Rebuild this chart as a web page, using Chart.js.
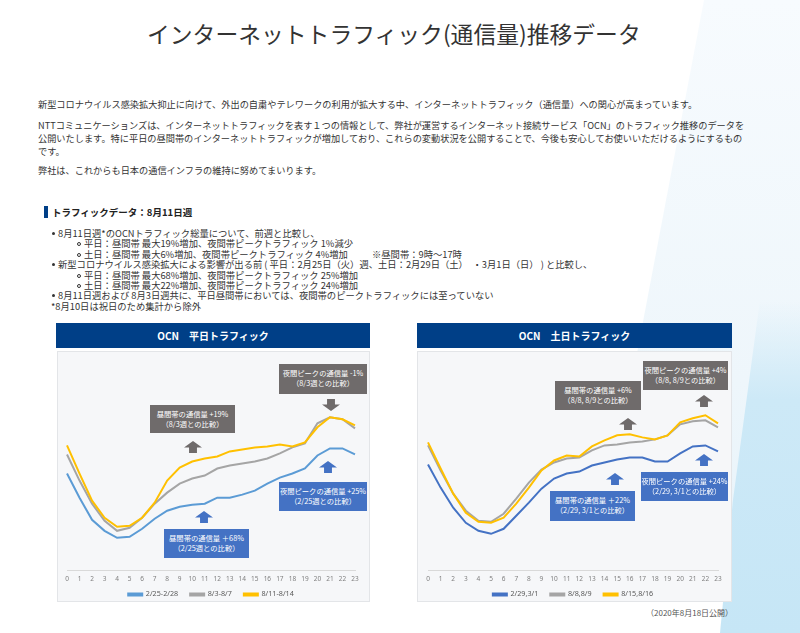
<!DOCTYPE html>
<html lang="ja">
<head>
<meta charset="utf-8">
<title>インターネットトラフィック(通信量)推移データ</title>
<script src="https://cdn.jsdelivr.net/npm/chart.js@4.4.0/dist/chart.umd.min.js"></script>
<style>
  html, body { margin: 0; padding: 0; }
  body {
    width: 800px; height: 633px; position: relative; overflow: hidden;
    background: #ffffff;
    font-family: "Noto Sans CJK JP", "Noto Sans", sans-serif;
    color: #333;
  }
  .bg1 {
    position: absolute; left: 560px; top: 0; width: 240px; height: 633px;
    background: linear-gradient(180deg, #f7fbfe 0%, #eef6fb 60%, #e6f3fa 100%);
    clip-path: polygon(60% 0, 100% 0, 100% 100%, 80% 100%, 30% 60%);
  }
  .bg2 {
    position: absolute; left: 700px; top: 300px; width: 100px; height: 333px;
    background: linear-gradient(180deg, rgba(200,233,248,0) 0%, #cde9f7 30%, #c6e6f6 100%);
    clip-path: polygon(60% 0, 100% 0, 100% 100%, 20% 100%, 33% 60%);
  }
  .abs { position: absolute; white-space: nowrap; }
  .title { left: 147px; top: 18px; font-size: 22.8px; line-height: 32px; color: #333; }
  .p { left: 38px; font-size: 9.2px; line-height: 12px; color: #333; }
  .h2 { left: 52px; top: 206px; font-size: 9.5px; font-weight: bold; line-height: 13px; color: #222; }
  .h2bar { position: absolute; left: 44px; top: 206px; width: 4px; height: 12px; background: #003f87; }
  .li { font-size: 9.3px; line-height: 11px; color: #333; }
  .dot { position: absolute; width: 3px; height: 3px; border-radius: 50%; background: #333; }
  .circ { position: absolute; width: 4px; height: 4px; border-radius: 50%; border: 1px solid #333; box-sizing: border-box; }
  .panelHead {
    position: absolute; top: 323px; height: 25px; background: #003f87; color: #fff;
    font-size: 10px; font-weight: bold; line-height: 25px; text-align: center;
  }
  .panel {
    position: absolute; top: 351px; height: 251px; background: #f6f7f9;
    border: 1px solid #e3e5e8; box-sizing: border-box; overflow: hidden;
  }
  .cwrap { position: absolute; left: 0; top: 0; width: 100%; height: 265px; }
  .note {
    position: absolute; color: #fff; font-size: 7.3px; line-height: 10px; text-align: center;
    box-sizing: border-box; padding-top: 4px; white-space: nowrap;
  }
  .gray { background: #6f6b6b; }
  .blue { background: #4472c4; }
  .arrow { position: absolute; width: 18px; height: 12px; }
  .up { clip-path: polygon(50% 0, 100% 55%, 72% 55%, 72% 100%, 28% 100%, 28% 55%, 0 55%); }
  .down { clip-path: polygon(28% 0, 72% 0, 72% 45%, 100% 45%, 50% 100%, 0 45%, 28% 45%); }
  .foot { left: 646px; top: 607px; font-size: 8px; line-height: 12px; color: #555; }
</style>
</head>
<body>
<div class="bg1"></div>
<div class="bg2"></div>

<div class="abs title">インターネットトラフィック(通信量)推移データ</div>

<div class="abs p" style="top:98px">新型コロナウイルス感染拡大抑止に向けて、外出の自粛やテレワークの利用が拡大する中、インターネットトラフィック（通信量）への関心が高まっています。</div>
<div class="abs p" style="top:119px">NTTコミュニケーションズは、インターネットトラフィックを表す１つの情報として、弊社が運営するインターネット接続サービス「OCN」のトラフィック推移のデータを</div>
<div class="abs p" style="top:132px">公開いたします。特に平日の昼間帯のインターネットトラフィックが増加しており、これらの変動状況を公開することで、今後も安心してお使いいただけるようにするもの</div>
<div class="abs p" style="top:145px">です。</div>
<div class="abs p" style="top:164px">弊社は、これからも日本の通信インフラの維持に努めてまいります。</div>

<div class="h2bar"></div>
<div class="abs h2">トラフィックデータ：8月11日週</div>

<div class="dot" style="left:52px;top:232px"></div>
<div class="abs li" style="left:58px;top:228px">8月11日週*のOCNトラフィック総量について、前週と比較し、</div>
<div class="circ" style="left:77px;top:242px"></div>
<div class="abs li" style="left:84px;top:238px">平日：昼間帯 最大19%増加、夜間帯ピークトラフィック 1%減少</div>
<div class="circ" style="left:77px;top:253px"></div>
<div class="abs li" style="left:84px;top:249px">土日：昼間帯 最大6%増加、夜間帯ピークトラフィック 4%増加</div>
<div class="abs li" style="left:372px;top:249px">※昼間帯：9時〜17時</div>
<div class="dot" style="left:52px;top:263px"></div>
<div class="abs li" style="left:58px;top:259px">新型コロナウイルス感染拡大による影響が出る前 ( 平日：2月25日（火）週、土日：2月29日（土）　・3月1日（日） ) と比較し、</div>
<div class="circ" style="left:77px;top:274px"></div>
<div class="abs li" style="left:84px;top:270px">平日：昼間帯 最大68%増加、夜間帯ピークトラフィック 25%増加</div>
<div class="circ" style="left:77px;top:284px"></div>
<div class="abs li" style="left:84px;top:280px">土日：昼間帯 最大22%増加、夜間帯ピークトラフィック 24%増加</div>
<div class="dot" style="left:52px;top:294px"></div>
<div class="abs li" style="left:58px;top:290px">8月11日週および 8月3日週共に、平日昼間帯においては、夜間帯のピークトラフィックには至っていない</div>
<div class="abs li" style="left:51px;top:301px">*8月10日は祝日のため集計から除外</div>

<!-- weekday panel -->
<div class="panelHead" style="left:56px;width:314px">OCN　平日トラフィック</div>
<div class="panel" style="left:57px;width:313px"><div class="cwrap"><canvas id="weekday"></canvas></div></div>

<!-- weekend panel -->
<div class="panelHead" style="left:417px;width:315px">OCN　土日トラフィック</div>
<div class="panel" style="left:417px;width:315px"><div class="cwrap"><canvas id="weekend"></canvas></div></div>

<!-- weekday notes -->
<div class="note gray" style="left:150px;top:405px;width:85px;height:28px">昼間帯の通信量 +19%<br>（8/3週との比較）</div>
<div class="arrow up gray" style="left:184px;top:441px"></div>
<div class="note gray" style="left:279px;top:364px;width:88px;height:30px">夜間ピークの通信量 -1%<br>（8/3週との比較）</div>
<div class="arrow down gray" style="left:322px;top:399px"></div>
<div class="note blue" style="left:164px;top:529px;width:85px;height:29px">昼間帯の通信量 ＋68%<br>（2/25週との比較）</div>
<div class="arrow up blue" style="left:195px;top:511px"></div>
<div class="note blue" style="left:279px;top:482px;width:88px;height:29px">夜間ピークの通信量 +25%<br>（2/25週との比較）</div>
<div class="arrow up blue" style="left:319px;top:461px"></div>

<!-- weekend notes -->
<div class="note gray" style="left:555px;top:381px;width:86px;height:29px">昼間帯の通信量 +6%<br>（8/8, 8/9との比較）</div>
<div class="arrow up gray" style="left:619px;top:418px"></div>
<div class="note gray" style="left:643px;top:361px;width:85px;height:29px">夜間ピークの通信量 +4%<br>（8/8, 8/9との比較）</div>
<div class="arrow up gray" style="left:695px;top:395px"></div>
<div class="note blue" style="left:550px;top:491px;width:85px;height:30px">昼間帯の通信量 ＋22%<br>（2/29, 3/1との比較）</div>
<div class="arrow up blue" style="left:606px;top:473px"></div>
<div class="note blue" style="left:641px;top:472px;width:87px;height:29px">夜間ピークの通信量 +24%<br>（2/29, 3/1との比較）</div>
<div class="arrow up blue" style="left:695px;top:454px"></div>

<div class="abs foot">（2020年8月18日公開）</div>

<script>
// hours of the day (x axis)
const hours = ['0','1','2','3','4','5','6','7','8','9','10','11','12','13','14','15','16','17','18','19','20','21','22','23'];

// weekday traffic (relative level)
const weekdayLabels = ['2/25-2/28', '8/3-8/7', '8/11-8/14'];
const weekdayFeb = [96, 72, 50, 39, 32, 33, 41, 51, 59, 63, 65, 66, 72, 72, 75, 79, 86, 92, 96, 101, 114, 121, 121, 115];
const weekdayAug3 = [115, 89, 66, 49, 39, 42, 52, 66, 77, 86, 91, 94, 101, 104, 106, 108, 111, 116, 122, 126, 146, 152, 150, 141];
const weekdayAug11 = [124, 96, 69, 52, 43, 44, 52, 67, 89, 102, 108, 111, 113, 118, 120, 122, 123, 125, 123, 127, 142, 152, 150, 144];

// weekend traffic
const weekendLabels = ['2/29,3/1', '8/8,8/9', '8/15,8/16'];
const weekendFeb = [105, 82, 62, 47, 39, 36, 41, 54, 67, 81, 91, 96, 98, 104, 107, 110, 112, 112, 108, 108, 116, 123, 124, 118];
const weekendAug8 = [124, 99, 76, 59, 49, 48, 56, 71, 87, 100, 107, 111, 112, 119, 124, 125, 127, 128, 130, 134, 145, 148, 149, 142];
const weekendAug15 = [127, 101, 76, 57, 48, 47, 52, 66, 82, 99, 109, 114, 113, 123, 129, 134, 135, 132, 130, 134, 147, 151, 154, 146];

const yMax = 208;

// pull the legend a little closer to the tick labels
const legendNudge = {
    id: 'legendNudge',
    afterLayout(chart) {
        chart.legend.top -= 9;
        chart.legend.bottom -= 9;
    }
};

function lineSet(label, data, color, order) {
    return {
        label: label,
        data: data,
        borderColor: color,
        backgroundColor: color,
        borderWidth: 2,
        pointRadius: 0,
        tension: 0,
        order: order
    };
}

function makeChart(id, labels, series, colors, pad) {
    const ctx = document.getElementById(id);
    return new Chart(ctx, {
        type: 'line',
        data: {
            labels: hours,
            datasets: [
                lineSet(labels[0], series[0], colors[0], 2),
                lineSet(labels[1], series[1], colors[1], 1),
                lineSet(labels[2], series[2], colors[2], 0)
            ]
        },
        options: {
            responsive: true,
            maintainAspectRatio: false,
            animation: false,
            layout: { padding: { left: pad.left, right: pad.right, top: 9, bottom: 0 } },
            scales: {
                x: {
                    offset: false,
                    grid: { display: false, drawTicks: false },
                    border: { display: true, color: '#d9d9d9', width: 1 },
                    ticks: { color: '#7f7f7f', font: { size: 6.5, family: 'Noto Sans' }, padding: 5, maxRotation: 0, autoSkip: false }
                },
                y: { display: false, min: 0, max: yMax }
            },
            plugins: {
                legend: {
                    position: 'bottom',
                    labels: {
                        boxWidth: 14,
                        boxHeight: 2,
                        padding: 12,
                        color: '#595959',
                        font: { size: 7.2, family: 'Noto Sans' },
                        sort: (a, b) => a.datasetIndex - b.datasetIndex
                    }
                },
                tooltip: { enabled: false }
            }
        },
        plugins: [legendNudge]
    });
}

makeChart('weekday', weekdayLabels, [weekdayFeb, weekdayAug3, weekdayAug11],
    ['#5b9bd5', '#a5a5a5', '#ffc000'], { left: 9, right: 14 });
makeChart('weekend', weekendLabels, [weekendFeb, weekendAug8, weekendAug15],
    ['#4472c4', '#a5a5a5', '#ffc000'], { left: 10, right: 13 });
</script>
</body>
</html>
